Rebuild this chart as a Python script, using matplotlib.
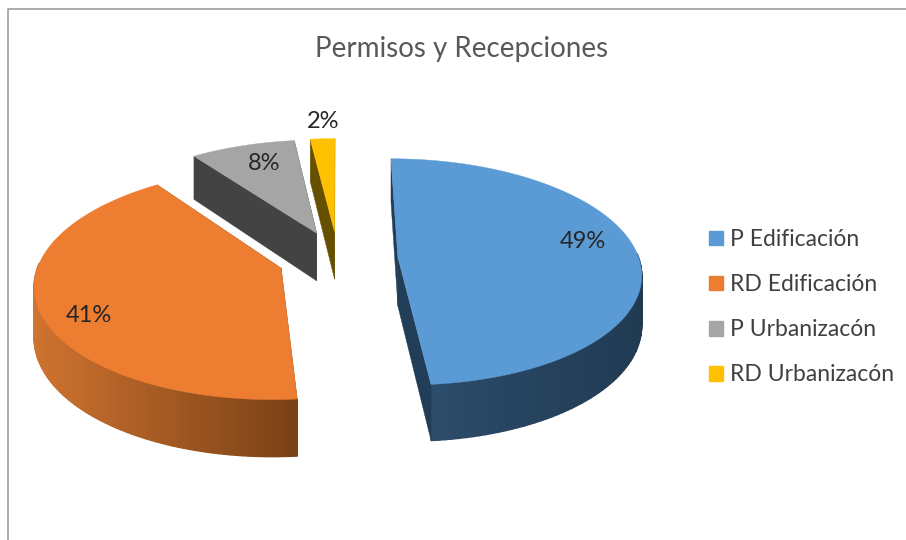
import numpy as np
import matplotlib
matplotlib.use('Agg')
import matplotlib.pyplot as plt
from matplotlib.colors import to_rgb
from matplotlib.patches import Patch

plt.rcParams['font.family'] = ['Lato', 'DejaVu Sans']

# datos
categorias = ['P Edificación', 'RD Edificación', 'P Urbanizacón', 'RD Urbanizacón']
valores = [48.6, 41.4, 8.1, 1.9]

colores = ['#5b9bd5', '#ed7d31', '#a5a5a5', '#ffc000']
pared = ['#223d57', '#7a4116', '#434343', '#665000']
borde_izq = ['#2e5070', '#cf7330', '#555555', '#806000']
borde_der = ['#203a52', '#7a4116', '#434343', '#665000']
pos_etiquetas = [(583, 241), (89, 315), (264, 164), (323, 121)]

# proyeccion del pie 3D (en pixeles de la figura)
cx, cy = 338, 258.4
escala_x, escala_y = 241, 111.5
perspectiva = 0.13
explosion = 0.249
alto = 49


def proyectar(x, y, abajo=False):
    w = 1 + perspectiva * y
    px = cx + escala_x * x / w
    py = cy - escala_y * y / w
    if abajo:
        py = py + alto / w
    return px, py


def mezcla(c1, c2, f):
    a, b = np.array(to_rgb(c1)), np.array(to_rgb(c2))
    return tuple(a + (b - a) * f)


fig = plt.figure(figsize=(9.06, 5.4), dpi=100)
ax = fig.add_axes([0, 0, 1, 1])
ax.set_xlim(0, 906)
ax.set_ylim(540, 0)
ax.axis('off')

# marco del grafico
ax.plot([8, 8, 906], [540, 9, 9], color='#a6a6a6', lw=1.3, zorder=1)

# limites de cada trozo, en sentido horario desde arriba
limites = np.deg2rad(np.concatenate([[0], np.cumsum(valores)]) * 3.6)

# se dibuja de atras hacia adelante
orden = [2, 3, 0, 1]
for i in orden:
    t0, t1 = limites[i], limites[i + 1]
    medio = (t0 + t1) / 2
    ox = explosion * np.sin(medio)
    oy = explosion * np.cos(medio)
    t = np.linspace(t0, t1, 120)
    xs = ox + np.sin(t)
    ys = oy + np.cos(t)

    # borde exterior con degradado, solo la parte de adelante
    px1, py1 = proyectar(xs, ys)
    px2, py2 = proyectar(xs, ys, abajo=True)
    x_min, x_max = px1.min(), px1.max()
    for k in range(len(t) - 1):
        if np.cos(t[k]) > 0.05 or np.cos(t[k + 1]) > 0.05:
            continue
        f = (px1[k] - x_min) / (x_max - x_min)
        ax.fill([px1[k], px1[k + 1], px2[k + 1], px2[k]],
                [py1[k], py1[k + 1], py2[k + 1], py2[k]],
                color=mezcla(borde_izq[i], borde_der[i], f), lw=1, zorder=2)

    # paredes de los cortes
    for tc in (t0, t1):
        xc = np.array([ox, ox + np.sin(tc)])
        yc = np.array([oy, oy + np.cos(tc)])
        ax1, ay1 = proyectar(xc, yc)
        ax2, ay2 = proyectar(xc, yc, abajo=True)
        ax.fill(np.r_[ax1, ax2[::-1]], np.r_[ay1, ay2[::-1]],
                color=pared[i], lw=0.3, zorder=2)

    # cara superior
    ap_x, ap_y = proyectar(np.array([ox]), np.array([oy]))
    ax.fill(np.r_[ap_x, px1], np.r_[ap_y, py1], color=colores[i], lw=0.3, zorder=3)

# etiquetas de porcentaje
for v, (x, y) in zip(valores, pos_etiquetas):
    ax.text(x, y, f'{round(v)}%', fontsize=17, color='#262626', ha='center', va='center', zorder=5)

ax.text(462, 49, 'Permisos y Recepciones', fontsize=20, color='#595959',
        ha='center', va='center')

handles = [Patch(color=c, label=n) for c, n in zip(colores, categorias)]
leg = ax.legend(handles=handles, loc='upper left', bbox_to_anchor=(0.7826, 0.576),
                frameon=False, fontsize=16.5, handlelength=0.61, handleheight=0.61,
                handletextpad=0.3, labelspacing=1.055, labelcolor='#404040',
                borderpad=0, borderaxespad=0)

fig.savefig('out.png', dpi=100)
